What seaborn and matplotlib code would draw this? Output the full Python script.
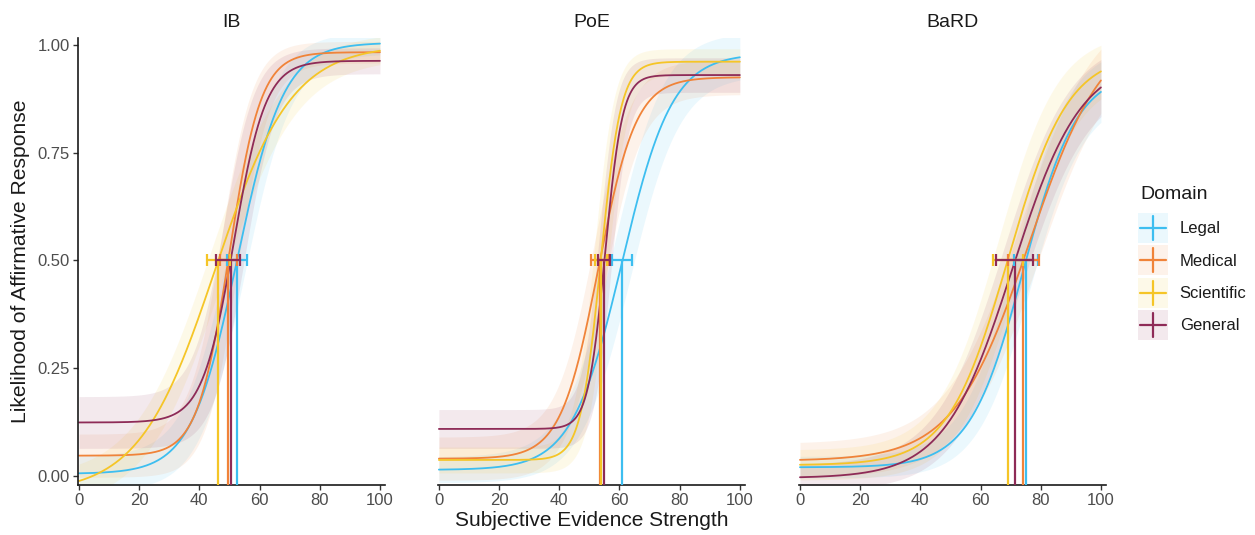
import numpy as np
import pandas as pd
import matplotlib
matplotlib.use("Agg")
import matplotlib.pyplot as plt
from matplotlib.patches import Rectangle
from matplotlib.lines import Line2D
from matplotlib.legend_handler import HandlerBase
import seaborn as sns

# ---- fitted psychometric curves: one row per standard, one column per domain ----
standards = ["IB", "PoE", "BaRD"]
domains = ["Legal", "Medical", "Scientific", "General"]
domain_colors = ["#3DBEF0", "#F08339", "#F5C527", "#8E2B57"]

# lower asymptote (guessing floor)
floor = [[0.005, 0.047, -0.040, 0.124],
         [0.014, 0.040, 0.037, 0.109],
         [0.020, 0.035, 0.025, -0.005]]
# upper asymptote
ceiling = [[1.005, 0.983, 1.000, 0.963],
           [0.980, 0.925, 0.961, 0.930],
           [0.940, 1.050, 0.980, 0.970]]
# slope of the logistic
slope = [[0.130, 0.190, 0.079, 0.190],
         [0.120, 0.160, 0.300, 0.350],
         [0.112, 0.080, 0.100, 0.088]]
# threshold: evidence strength at which P(affirmative) = .5
threshold = [[52.5, 49.6, 46.3, 50.4],
             [61.0, 53.5, 53.8, 55.0],
             [75.1, 74.2, 69.0, 71.5]]
# 95% interval of the threshold
thr_low = [[49.3, 47.0, 42.4, 45.7],
           [57.4, 50.7, 51.8, 53.0],
           [71.0, 69.0, 64.0, 65.0]]
thr_high = [[55.7, 52.5, 50.2, 53.5],
            [64.0, 56.2, 55.8, 57.0],
            [79.0, 79.5, 74.0, 77.5]]
# uncertainty of the asymptotes and of the curve location (confidence bands)
floor_se = [[0.040, 0.050, 0.035, 0.060],
            [0.030, 0.050, 0.030, 0.045],
            [0.025, 0.040, 0.035, 0.030]]
ceiling_se = [[0.025, 0.025, 0.030, 0.030],
              [0.050, 0.040, 0.030, 0.040],
              [0.060, 0.050, 0.050, 0.050]]
shift_se = [[3.5, 3.5, 3.5, 4.5],
            [4.0, 3.0, 2.5, 2.5],
            [4.0, 5.0, 5.0, 5.0]]

x_grid = np.linspace(0, 100, 401)


def logistic(x, lo, hi, k, t50):
    """Four-parameter logistic that crosses .5 at t50."""
    q = (0.5 - lo) / (hi - lo)
    mid = t50 + np.log((1 - q) / q) / k
    return lo + (hi - lo) / (1 + np.exp(-k * (x - mid)))


rows = []
for s, std in enumerate(standards):
    for d, dom in enumerate(domains):
        p = logistic(x_grid, floor[s][d], ceiling[s][d], slope[s][d], threshold[s][d])
        band_lo = logistic(x_grid, floor[s][d] - floor_se[s][d],
                           ceiling[s][d] - ceiling_se[s][d], slope[s][d],
                           threshold[s][d] + shift_se[s][d])
        band_hi = logistic(x_grid, floor[s][d] + floor_se[s][d],
                           ceiling[s][d] + ceiling_se[s][d], slope[s][d],
                           threshold[s][d] - shift_se[s][d])
        rows.append(pd.DataFrame({"Standard": std, "Domain": dom, "x": x_grid,
                                  "p": p, "lo": band_lo, "hi": band_hi}))
curves = pd.concat(rows, ignore_index=True)


class CrossKey(HandlerBase):
    """Legend key: light band-coloured square with a cross (line + interval)."""

    def create_artists(self, legend, orig_handle, xdescent, ydescent,
                       width, height, fontsize, trans):
        color = orig_handle.get_color()
        x0, y0 = -xdescent, -ydescent
        rect = Rectangle((x0, y0), width, height, facecolor=color,
                         alpha=0.10, edgecolor="none", transform=trans)
        cx, cy = x0 + width / 2, y0 + height / 2
        hx = width * 0.42
        hy = height * 0.40
        hline = Line2D([cx - hx, cx + hx], [cy, cy], color=color,
                       linewidth=1.6, transform=trans)
        vline = Line2D([cx, cx], [cy - hy, cy + hy], color=color,
                       linewidth=1.6, transform=trans)
        return [rect, hline, vline]


# ---- styling ----
sns.set_style("ticks")
plt.rcParams["font.family"] = ["Liberation Sans", "DejaVu Sans"]
palette = dict(zip(domains, domain_colors))

fig = plt.figure(figsize=(12.55, 5.35), dpi=100)
lefts = [0.0622, 0.3490, 0.6367]
width, bottom, height = 0.2446, 0.0935, 0.8355
y_min, y_max = -0.021, 1.016

axes = []
for s, std in enumerate(standards):
    ax = fig.add_axes([lefts[s], bottom, width, height])
    axes.append(ax)
    sub = curves[curves["Standard"] == std]

    for dom in domains:
        g = sub[sub["Domain"] == dom]
        ax.fill_between(g["x"], g["lo"], g["hi"], color=palette[dom],
                        alpha=0.10, linewidth=0)

    sns.lineplot(data=sub, x="x", y="p", hue="Domain", hue_order=domains,
                 palette=palette, linewidth=1.3, legend=False, ax=ax,
                 sort=False)

    for d, dom in enumerate(domains):
        t = threshold[s][d]
        ax.vlines(t, y_min, 0.5, color=palette[dom], linewidth=1.6, zorder=4)
        ax.errorbar(t, 0.5,
                    xerr=[[t - thr_low[s][d]], [thr_high[s][d] - t]],
                    fmt="none", ecolor=palette[dom], elinewidth=1.6,
                    capsize=4.5, capthick=1.6, zorder=5)

    ax.set_xlim(-0.3, 101.7)
    ax.set_ylim(y_min, y_max)
    ax.set_xticks([0, 20, 40, 60, 80, 100])
    ax.set_yticks([0, 0.25, 0.5, 0.75, 1.0])
    ax.set_yticklabels(["0.00", "0.25", "0.50", "0.75", "1.00"])
    ax.set_title(std, fontsize=14, color="#1A1A1A", pad=8)
    ax.set_xlabel("")
    ax.set_ylabel("")
    ax.tick_params(axis="both", labelsize=12, labelcolor="#4D4D4D",
                   color="#333333", length=3.5, width=1.0, pad=2.5)
    for side in ("top", "right"):
        ax.spines[side].set_visible(False)
    ax.spines["bottom"].set_linewidth(1.2)
    ax.spines["bottom"].set_color("#1A1A1A")
    ax.spines["left"].set_linewidth(1.2)
    ax.spines["left"].set_color("#1A1A1A")
    if s > 0:
        ax.spines["left"].set_visible(False)
        ax.tick_params(axis="y", left=False, labelleft=False)

axes[0].set_ylabel("Likelihood of Affirmative Response", fontsize=15.2,
                   color="#1A1A1A", labelpad=5)
axes[1].set_xlabel("Subjective Evidence Strength", fontsize=15,
                   color="#1A1A1A", labelpad=2)

# ---- legend ----
fig.text(0.9084, 0.637, "Domain", fontsize=14, color="#1A1A1A",
         ha="left", va="center")
handles = [Line2D([], [], color=palette[dom]) for dom in domains]
leg = fig.legend(handles, domains,
                 handler_map={Line2D: CrossKey()},
                 loc="upper left", bbox_to_anchor=(0.9068, 0.602),
                 frameon=False, fontsize=12,
                 handlelength=1.8, handleheight=2.39, handletextpad=0.7,
                 labelspacing=0.15, borderpad=0, borderaxespad=0)
for txt in leg.get_texts():
    txt.set_color("#1A1A1A")

fig.savefig("out.png", dpi=100)
